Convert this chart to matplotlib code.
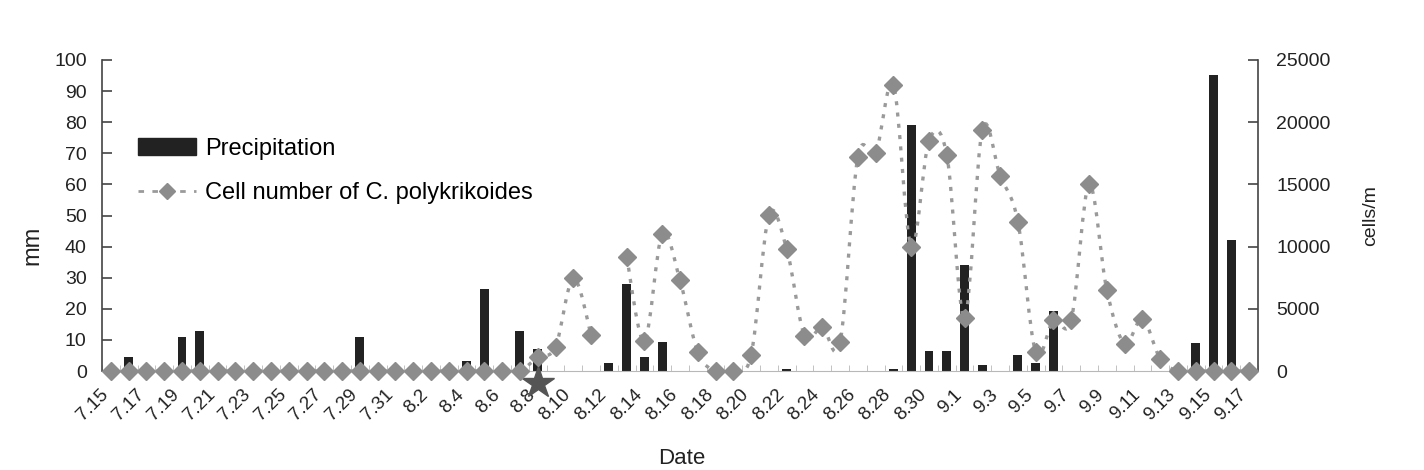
import matplotlib
import matplotlib.pyplot as plt
import numpy as np
import pandas as pd
from matplotlib.lines import Line2D
from matplotlib.patches import Patch, PathPatch
from matplotlib.path import Path
from matplotlib.transforms import ScaledTranslation

matplotlib.use('Agg')
plt.rcParams['font.family'] = ['Liberation Sans', 'DejaVu Sans']

# daily dates 7.15 - 9.17
days = pd.date_range('2000-07-15', '2000-09-17')
dates = [f'{d.month}.{d.day}' for d in days]

# precipitation, mm
precip = [0, 4.5, 0, 0, 11, 13, 0, 0, 0, 0, 0, 0, 0, 0, 11, 0, 0, 0, 0, 0,
          3.3, 26.5, 0, 12.8, 7, 0, 0, 0, 2.5, 28, 4.4, 9.2, 0, 0, 0, 0, 0, 0,
          0.6, 0, 0, 0, 0, 0, 0.5, 79, 6.4, 6.4, 34, 2, 0, 5.3, 2.5, 19.3, 0,
          0, 0, 0, 0, 0, 0, 8.9, 95.3, 42, 0]

# cell number of C. polykrikoides, cells/m (8.12 missing)
cells = [0] * 24 + [1100, 1950, 7500, 2900, np.nan, 9200, 2400, 11000, 7300,
                    1500, 0, 0, 1300, 12500, 9800, 2850, 3550, 2300, 17200,
                    17500, 23000, 10000, 18500, 17400, 4240, 19400, 15700,
                    12000, 1500, 4100, 4100, 15000, 6500, 2200, 4200, 1000,
                    0, 0, 0, 0, 0]

star_day = '8.8'

x = np.arange(len(dates))
cells = np.array(cells, dtype=float)


def smooth_path(xs, ys):
    # excel-like smoothed line through the points (bezier segments)
    verts = [(xs[0], ys[0])]
    codes = [Path.MOVETO]
    n = len(xs)
    for i in range(n - 1):
        p0 = np.array([xs[max(i - 1, 0)], ys[max(i - 1, 0)]])
        p1 = np.array([xs[i], ys[i]])
        p2 = np.array([xs[i + 1], ys[i + 1]])
        p3 = np.array([xs[min(i + 2, n - 1)], ys[min(i + 2, n - 1)]])
        c1 = p1 + (p2 - p0) / 6
        c2 = p2 - (p3 - p1) / 6
        verts += [tuple(c1), tuple(c2), tuple(p2)]
        codes += [Path.CURVE4] * 3
    return Path(verts, codes)


fig = plt.figure(figsize=(14.24, 4.7), dpi=100)
ax = fig.add_axes([102 / 1424, 99 / 470, 1156 / 1424, 311 / 470])
ax2 = ax.twinx()

ax.bar(x, precip, width=0.5, color='#222222', zorder=2)

line_color = '#8c8c8c'
ok = ~np.isnan(cells)
# split into runs without gaps
run = []
for i in range(len(x)):
    if ok[i]:
        run.append(i)
    if (not ok[i] or i == len(x) - 1) and len(run) > 1:
        ax2.add_patch(PathPatch(smooth_path(x[run], cells[run]), fill=False,
                                edgecolor='#9a9a9a', lw=2.4,
                                linestyle=(0, (1.2, 2.2)), zorder=3))
    if not ok[i]:
        run = []
ax2.plot(x[ok], cells[ok], linestyle='none', marker='D', ms=9.5,
         color=line_color, zorder=4, clip_on=False)

ax.plot([dates.index(star_day)], [-4], marker='*', ms=24, color='#555555',
        clip_on=False, zorder=5)

ax.set_xlim(-0.5, len(dates) - 0.5)
ax.set_ylim(0, 100)
ax2.set_ylim(0, 25000)

ax.set_yticks(np.arange(0, 101, 10))
ax2.set_yticks(np.arange(0, 25001, 5000))
ax.tick_params(axis='y', direction='in', length=7, width=1.2, color='#444444',
               labelsize=14, pad=11, labelcolor='#222222')
ax2.tick_params(axis='y', direction='in', length=7, width=1.2, color='#444444',
                labelsize=14, pad=13, labelcolor='#222222')

ax.set_xticks(x[::2])
ax.set_xticklabels(dates[::2], rotation=45, ha='right', va='top',
                   rotation_mode='anchor', fontsize=13.5, color='#222222')
ax.set_xticks(np.arange(-0.5, len(dates), 1), minor=True)
ax.tick_params(axis='x', which='major', length=0, pad=11)
ax.tick_params(axis='x', which='minor', direction='in', length=4,
               color='#b8b8b8')
off = ScaledTranslation(-8 / 72, 0, fig.dpi_scale_trans)
for lab in ax.get_xticklabels():
    lab.set_transform(lab.get_transform() + off)

for a in (ax, ax2):
    a.spines['top'].set_visible(False)
    a.spines['bottom'].set_color('#b8b8b8')
    a.spines['left'].set_color('#444444')
    a.spines['right'].set_color('#444444')
    a.spines['left'].set_linewidth(1.2)
    a.spines['right'].set_linewidth(1.2)
ax.spines['right'].set_visible(False)
ax2.spines['left'].set_visible(False)
ax2.spines['bottom'].set_visible(False)

ax.set_ylabel('mm', fontsize=17, color='#222222')
ax.yaxis.set_label_coords(-0.051, 0.405)
ax2.set_ylabel('cells/m', fontsize=14, color='#222222')
ax2.yaxis.set_label_coords(1.09, 0.5)
fig.text(682 / 1424, 1 - 458 / 470, 'Date', fontsize=16, ha='center',
         va='center', color='#222222')

handles = [Patch(facecolor='#222222', edgecolor='#222222'),
           Line2D([], [], color='#9a9a9a', lw=2, linestyle=(0, (2, 3)),
                  marker='D', ms=8, markerfacecolor=line_color,
                  markeredgecolor=line_color)]
ax2.legend(handles, ['Precipitation', 'Cell number of C. polykrikoides'],
           loc='upper left', bbox_to_anchor=(138 / 1424, 1 - 138 / 470),
           bbox_transform=fig.transFigure, frameon=False, fontsize=17,
           handlelength=2.45, handletextpad=0.4, labelspacing=0.95,
           borderpad=0, borderaxespad=0)

fig.savefig('out.png', dpi=100)
